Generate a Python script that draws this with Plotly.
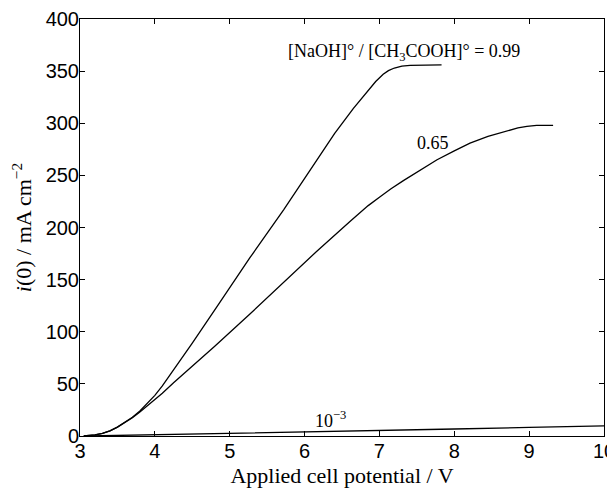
import plotly.graph_objects as go

# Applied cell potential (V) and current density i(0) (mA cm^-2)
v_099 = [3.05, 3.2, 3.3, 3.4, 3.5, 3.6, 3.7, 3.8, 3.9, 4.0, 4.1, 4.25, 4.5, 4.83, 5.27,
         5.72, 6.07, 6.4, 6.65, 6.85, 6.95, 7.05, 7.12, 7.2, 7.3, 7.41, 7.6, 7.83]
i_099 = [0, 1, 2.5, 5, 8.5, 13, 18, 24, 31, 39, 48, 63, 89, 124, 171,
         217, 255, 290, 314, 332, 340, 347, 350.5, 353, 354.8, 355.5, 356, 356]

v_065 = [3.05, 3.2, 3.3, 3.4, 3.5, 3.6, 3.7, 3.8, 3.9, 4.0, 4.1, 4.25, 4.47, 4.8, 5.27,
         5.72, 6.16, 6.61, 6.85, 7.0, 7.15, 7.32, 7.55, 7.77, 8.0, 8.21, 8.45, 8.66,
         8.85, 8.97, 9.1, 9.32]
i_065 = [0, 1, 2.5, 5, 8.5, 13, 17.5, 23, 29, 35, 41, 51, 65, 86, 117,
         147, 177, 206, 221, 229, 237, 245, 255.5, 265, 273.5, 281, 287.5, 292,
         295.5, 297, 298, 298]

v_1e3 = [3.1, 3.5, 4, 5, 6, 7, 8, 9, 10]
i_1e3 = [0, 0.5, 1.2, 2.6, 4, 5.3, 6.7, 8.3, 9.8]

series_names = ["0.99", "0.65", "10^-3"]
label_texts = ["[NaOH]° / [CH<sub>3</sub>COOH]° = 0.99", "0.65", "10<sup>−3</sup>"]
label_x = [7.33, 7.71, 6.35]
label_y = [368, 281, 16]

x_ticks = [3, 4, 5, 6, 7, 8, 9, 10]
y_ticks = [0, 50, 100, 150, 200, 250, 300, 350, 400]

serif = "Liberation Serif, Times New Roman, serif"
sans = "Liberation Sans, Arial, sans-serif"

fig = go.Figure()
for name, xs, ys in zip(series_names, [v_099, v_065, v_1e3], [i_099, i_065, i_1e3]):
    fig.add_trace(go.Scatter(x=xs, y=ys, mode="lines", name=name,
                             line=dict(color="black", width=1.3),
                             showlegend=False))

for t, x, y in zip(label_texts, label_x, label_y):
    fig.add_annotation(x=x, y=y, text=t, showarrow=False, xref="x", yref="y",
                       font=dict(family=serif, size=18, color="black"))

axis_common = dict(showline=True, linecolor="black", linewidth=1, mirror="ticks",
                   ticks="inside", ticklen=5, tickcolor="black", showgrid=False,
                   zeroline=False, automargin=False, ticklabeloverflow="allow",
                   tickfont=dict(family=sans, size=20, color="black"))

fig.update_xaxes(range=[3, 10], tickvals=x_ticks, ticklabelstandoff=-3,
                 title=dict(text="Applied cell potential / V",
                            font=dict(family=serif, size=22, color="black"), standoff=8),
                 **axis_common)
fig.update_yaxes(range=[0, 400], tickvals=y_ticks, ticklabelstandoff=-4,
                 title=dict(text="<i>i</i>(0) / mA cm<sup>−2</sup>",
                            font=dict(family=serif, size=22, color="black"), standoff=17),
                 **axis_common)

# page body has an 8px margin, so the figure is 8px smaller and margins compensate
fig.update_layout(width=607, height=480, plot_bgcolor="white", paper_bgcolor="white",
                  margin=dict(l=72, r=11, t=11, b=52))

fig.write_html("out.html")
